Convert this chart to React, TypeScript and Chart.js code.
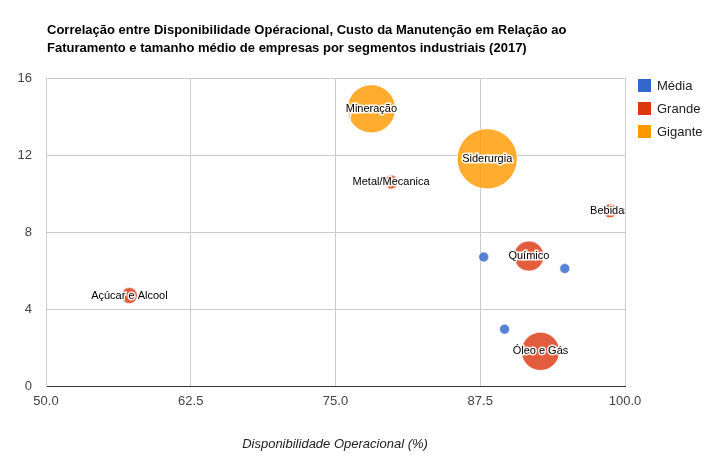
import React, { useEffect, useRef } from "react";
import { Chart, registerables } from "chart.js";
Chart.register(...registerables);

const titleLines = [
  "Correlação entre Disponibilidade Opéracional, Custo da Manutenção em Relação ao",
  "Faturamento e tamanho médio de empresas por segmentos industriais (2017)",
];
const seriesNames = ["Média", "Grande", "Gigante"];
const seriesColors = ["#3366cc", "#dc3912", "#ff9900"];
// [label, disponibilidade, custo, tamanho(r)]
const mediaPts: [string, number, number, number][] = [
  ["", 87.8, 6.7, 5],
  ["", 94.8, 6.1, 5],
  ["", 89.6, 2.95, 5],
];
const grandePts: [string, number, number, number][] = [
  ["Metal/Mecanica", 79.8, 10.6, 7],
  ["Bebidas", 98.7, 9.1, 7],
  ["Químico", 91.7, 6.75, 15],
  ["Açúcar e Alcool", 57.2, 4.7, 8],
  ["Óleo e Gás", 92.7, 1.8, 19],
];
const gigantePts: [string, number, number, number][] = [
  ["Mineração", 78.1, 14.4, 24],
  ["Siderurgia", 88.1, 11.8, 30],
];
const xTitle = "Disponibilidade Operacional (%)";

const FONT = "'Liberation Sans', Arial, sans-serif";

const toData = (a: [string, number, number, number][]) =>
  a.map(([label, x, y, r]) => ({ x, y, r, label }));

export default function App() {
  const ref = useRef<HTMLCanvasElement>(null);
  useEffect(() => {
    document.body.style.margin = "0";
    const overlay = {
      id: "overlay",
      afterDatasetsDraw(chart: any) {
        const ctx = chart.ctx;
        const a = chart.chartArea;
        ctx.save();
        ctx.beginPath();
        ctx.rect(0, 0, a.right, 469);
        ctx.clip();
        chart.data.datasets.forEach((ds: any, i: number) => {
          const meta = chart.getDatasetMeta(i);
          meta.data.forEach((el: any, j: number) => {
            const lab = ds.data[j].label;
            if (!lab) return;
            ctx.font = `11px ${FONT}`;
            ctx.textAlign = "center";
            ctx.textBaseline = "middle";
            ctx.lineWidth = 3;
            ctx.strokeStyle = "rgba(255,255,255,0.9)";
            ctx.strokeText(lab, el.x, el.y);
            ctx.fillStyle = "#000";
            ctx.fillText(lab, el.x, el.y);
          });
        });
        ctx.restore();
      },
      afterDraw(chart: any) {
        const ctx = chart.ctx;
        ctx.save();
        ctx.fillStyle = "#000";
        ctx.font = `bold 13px ${FONT}`;
        ctx.textAlign = "left";
        ctx.textBaseline = "middle";
        titleLines.forEach((t, i) => ctx.fillText(t, 47, 30 + i * 18));
        ctx.font = `13px ${FONT}`;
        seriesNames.forEach((n, i) => {
          const y = 85 + i * 23;
          ctx.fillStyle = seriesColors[i];
          ctx.fillRect(638, y - 6, 13, 13);
          ctx.fillStyle = "#222";
          ctx.fillText(n, 657, y + 1);
        });
        ctx.font = `italic 13px ${FONT}`;
        ctx.textAlign = "center";
        ctx.fillText(xTitle, 335, 444);
        ctx.restore();
      },
    };
    const mk = (pts: any, i: number) => ({
      label: seriesNames[i],
      data: toData(pts),
      backgroundColor: seriesColors[i] + "d0",
      borderColor: "rgba(255,255,255,0.6)",
      borderWidth: 1,
    });
    const chart = new Chart(ref.current!, {
      type: "bubble",
      data: { datasets: [mk(gigantePts, 2), mk(grandePts, 1), mk(mediaPts, 0)] },
      options: {
        animation: false,
        responsive: false,
        layout: { padding: { top: 78, right: 83, left: 0, bottom: 0 } },
        plugins: { legend: { display: false }, tooltip: { enabled: false } },
        scales: {
          x: {
            min: 50, max: 100,
            ticks: { stepSize: 12.5, callback: (v: any) => Number(v).toFixed(1), color: "#444", font: { family: FONT, size: 13 }, padding: 8, maxRotation: 0 },
            grid: { color: "#cccccc", drawTicks: false },
            border: { color: "#333" },
            afterFit: (s: any) => { s.height = 83; },
          },
          y: {
            min: 0, max: 16,
            ticks: { stepSize: 4, color: "#444", font: { family: FONT, size: 13 }, padding: 14 },
            grid: { color: "#cccccc", drawTicks: false },
            border: { color: "#cccccc" },
            afterFit: (s: any) => { s.width = 46; },
          },
        },
      },
      plugins: [overlay],
    } as any);
    return () => chart.destroy();
  }, []);
  return (
    <div style={{ position: "fixed", left: 0, top: 0, width: 708, height: 469, background: "#fff" }}>
      <canvas ref={ref} width={708} height={469} />
    </div>
  );
}
